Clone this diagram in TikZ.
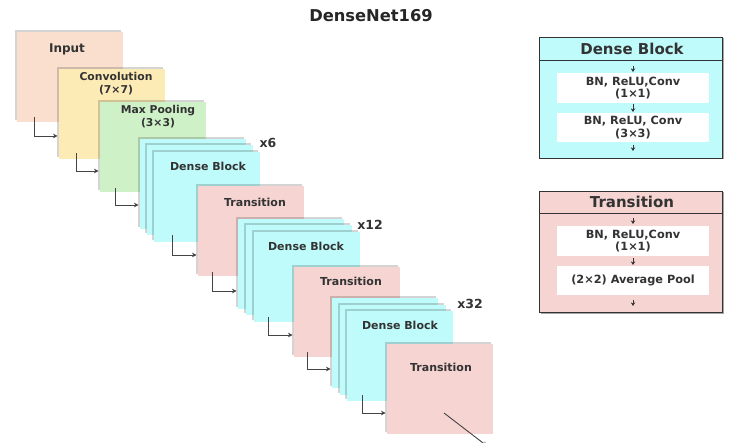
\documentclass[tikz,border=0pt]{standalone}
\usepackage{fontspec}
\setmainfont{DejaVu Sans}
\usetikzlibrary{shadows,arrows.meta,calc}
\definecolor{cinput}{HTML}{FADFCE}
\definecolor{cconv}{HTML}{FDEBB6}
\definecolor{cpool}{HTML}{CFF1C8}
\definecolor{cdense}{HTML}{BFFBFB}
\definecolor{ctrans}{HTML}{F6D4D2}
\definecolor{txt}{HTML}{333333}
\definecolor{ln}{HTML}{444444}
\begin{document}
\begin{tikzpicture}[x=1pt,y=-1pt,
  layer/.style={anchor=north west, minimum width=106pt, minimum height=90pt, inner sep=0pt, outer sep=0pt,
    drop shadow={shadow xshift=-2pt, shadow yshift=2pt, fill=black, opacity=0.17}},
  lbl/.style={font=\bfseries\fontsize{11}{13}\selectfont, text=txt, align=center, inner sep=0pt},
  rep/.style={font=\bfseries\fontsize{12.5}{14}\selectfont, text=txt, inner sep=0pt},
  flow/.style={draw=ln, line width=0.9pt, -{Stealth[length=4.5pt,width=4.5pt]}, shorten >=1.5pt},
  panel/.style={anchor=north west, minimum width=183pt, inner sep=0pt, outer sep=0pt, draw=txt, line width=0.8pt,
    drop shadow={shadow xshift=1.5pt, shadow yshift=-1.5pt, fill=black, opacity=0.35}},
  phead/.style={anchor=north west, minimum width=183pt, inner sep=0pt, outer sep=0pt, draw=txt, line width=0.8pt},
  ptitle/.style={font=\bfseries\fontsize{15}{16}\selectfont, text=txt, inner sep=0pt},
  ibox/.style={anchor=north west, fill=white, minimum width=152pt, inner sep=0pt, outer sep=0pt,
    font=\bfseries\fontsize{11.3}{12.5}\selectfont, text=txt, align=center},
  sarr/.style={draw=txt, line width=0.8pt, -{Stealth[length=3.6pt,width=4.4pt]}}
]
\useasboundingbox (0,0) rectangle (738,443);
\fill[white] (0,0) rectangle (738,443);

% title
\node[font=\bfseries\fontsize{16.3}{18}\selectfont, text=black!85, inner sep=0pt] (title) at (371,16) {DenseNet169};

% main stack
\node[layer, fill=cinput] (inp) at (17,32) {};
\node[lbl, font=\bfseries\fontsize{12}{13}\selectfont] (inpl) at (67,49) {Input};
\node[layer, fill=cconv] (conv) at (59,69) {};
\node[lbl, font=\bfseries\fontsize{10.8}{13}\selectfont] (convl) at (116,83.5) {Convolution\\(7×7)};
\node[layer, fill=cpool] (pool) at (100,102) {};
\node[lbl, font=\bfseries\fontsize{10.8}{13}\selectfont] (pooll) at (158,116.5) {Max Pooling\\(3×3)};

\node[layer, fill=cdense] (db1a) at (140,139) {};
\node[layer, fill=cdense] (db1b) at (147,145) {};
\node[layer, fill=cdense] (db1c) at (154,152) {};
\node[lbl] (db1l) at (208,166) {Dense Block};
\node[rep] (x6) at (268,143) {x6};

\node[layer, fill=ctrans] (t1) at (198,186) {};
\node[lbl] (t1l) at (255,202) {Transition};

\node[layer, fill=cdense] (db2a) at (238,219) {};
\node[layer, fill=cdense] (db2b) at (246,225) {};
\node[layer, fill=cdense] (db2c) at (254,232) {};
\node[lbl] (db2l) at (306,246) {Dense Block};
\node[rep] (x12) at (370,225) {x12};

\node[layer, fill=ctrans] (t2) at (294,267) {};
\node[lbl] (t2l) at (351,281) {Transition};

\node[layer, fill=cdense] (db3a) at (332,298) {};
\node[layer, fill=cdense] (db3b) at (340,305) {};
\node[layer, fill=cdense] (db3c) at (347,311) {};
\node[lbl] (db3l) at (400,325) {Dense Block};
\node[rep] (x32) at (470,304) {x32};

\node[layer, fill=ctrans] (t3) at (387,344) {};
\node[lbl] (t3l) at (441,367) {Transition};

% elbow connectors
\draw[flow] ($(inp.south west)+(17,-5)$) |- ($(inp.south west -| conv.west)+(0,14)$);
\draw[flow] ($(conv.south west)+(17,-6)$) |- ($(conv.south west -| pool.west)+(0,12)$);
\draw[flow] ($(pool.south west)+(15,-4)$) |- ($(pool.south west -| db1a.west)+(0,13)$);
\draw[flow] ($(db1c.south west)+(18,-7)$) |- ($(db1c.south west -| t1.west)+(0,13)$);
\draw[flow] ($(t1.south west)+(14,-4)$) |- ($(t1.south west -| db2a.west)+(0,15)$);
\draw[flow] ($(db2c.south west)+(14,-5)$) |- ($(db2c.south west -| t2.west)+(0,13)$);
\draw[flow] ($(t2.south west)+(13,-5)$) |- ($(t2.south west -| db3a.west)+(0,12)$);
\draw[flow] ($(db3c.south west)+(15,-6)$) |- ($(db3c.south west -| t3.west)+(0,12)$);
\coordinate (out) at (487,446);
\draw[flow, shorten >=0pt] ($(t3.north west)+(57,69)$) -- (out);

% Dense Block panel
\node[panel, fill=cdense, minimum height=121pt] (dbp) at (539,37) {};
\node[phead, fill=cdense, minimum height=23pt] (dbh) at (539,37) {};
\node[ptitle] (dbt) at (632,49) {Dense Block};
\node[ibox, minimum height=30pt] (dbb1) at (557,73) {BN, ReLU,Conv\\(1×1)};
\node[ibox, minimum height=29pt] (dbb2) at (557,113) {BN, ReLU, Conv\\(3×3)};
\draw[sarr] ($(dbb1.north)+(0,-7)$) -- ($(dbb1.north)+(0,-1)$);
\draw[sarr] ($(dbb1.south)+(0,1)$) -- ($(dbb2.north)+(0,-1)$);
\draw[sarr] ($(dbb2.south)+(0,3)$) -- ($(dbb2.south)+(0,9)$);

% Transition panel
\node[panel, fill=ctrans, minimum height=121pt] (trp) at (539,191) {};
\node[phead, fill=ctrans, minimum height=22pt] (trh) at (539,191) {};
\node[ptitle] (trt) at (632,202) {Transition};
\node[ibox, minimum height=30pt] (trb1) at (557,226) {BN, ReLU,Conv\\(1×1)};
\node[ibox, minimum height=29pt] (trb2) at (557,266) {(2×2) Average Pool};
\draw[sarr] ($(trb1.north)+(0,-8)$) -- ($(trb1.north)+(0,-2)$);
\draw[sarr] ($(trb1.south)+(0,2)$) -- ($(trb2.north)+(0,-1)$);
\draw[sarr] ($(trb2.south)+(0,5)$) -- ($(trb2.south)+(0,11)$);
\end{tikzpicture}
\end{document}
